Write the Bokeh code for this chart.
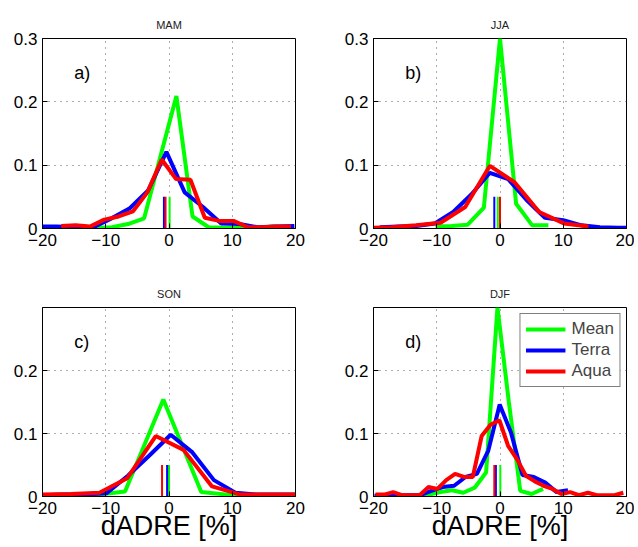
from bokeh.plotting import figure
from bokeh.layouts import column, row
from bokeh.models import Range1d, FixedTicker, CustomJSTickFormatter, Label, Legend
from bokeh.embed import file_html
from bokeh.resources import INLINE

# ---------------- data ----------------
seasons = ["MAM", "JJA", "SON", "DJF"]
panel_tags = ["a)", "b)", "c)", "d)"]
series_names = ["Mean", "Terra", "Aqua"]
series_colors = ["#00ff00", "#0000ff", "#ff0000"]

x_ticks = [-20, -10, 0, 10, 20]
y_ticks_top = [0, 0.1, 0.2, 0.3]
y_ticks_bottom = [0, 0.1, 0.2]

# MAM
mam_mean_x = [-19.23, -16.68, -14.13, -11.58, -9.03, -6.48, -3.93, -1.38, 1.17, 3.72, 6.27, 8.82, 11.37, 13.92, 16.47, 19.02]
mam_mean_y = [0.0, 0.0, 0.0, 0.001, 0.002, 0.007, 0.016, 0.113, 0.209, 0.019, 0.002, 0.001, 0.001, 0.001, 0.003, 0.001]
mam_terra_x = [-20.64, -17.75, -14.86, -11.97, -9.08, -6.19, -3.3, -0.41, 2.48, 5.37, 8.26, 11.15, 14.04, 16.93, 19.82]
mam_terra_y = [0.003, 0.003, 0.002, 0.002, 0.016, 0.032, 0.06, 0.121, 0.057, 0.034, 0.008, 0.007, 0.002, 0.003, 0.004]
mam_aqua_x = [-17.04, -14.77, -12.5, -10.23, -7.96, -5.69, -3.42, -1.15, 1.12, 3.39, 5.66, 7.93, 10.2, 12.47, 14.74, 17.01, 19.28]
mam_aqua_y = [0.004, 0.005, 0.003, 0.014, 0.019, 0.027, 0.057, 0.109, 0.078, 0.077, 0.017, 0.012, 0.012, 0.002, 0.002, 0.003, 0.003]
mam_means = [0.1, -0.8, -0.55]

# JJA
jja_mean_x = [-10.2, -7.65, -5.1, -2.55, 0.0, 2.55, 5.1, 7.65]
jja_mean_y = [0.003, 0.004, 0.006, 0.033, 0.3, 0.039, 0.005, 0.005]
jja_terra_x = [-19.0, -16.1, -13.2, -10.3, -7.4, -4.5, -1.6, 1.3, 4.2, 7.1, 10.0, 12.9, 15.8, 18.7, 21.6]
jja_terra_y = [0.002, 0.003, 0.004, 0.008, 0.026, 0.054, 0.088, 0.078, 0.045, 0.017, 0.013, 0.005, 0.002, 0.001, 0.001]
jja_aqua_x = [-21.1, -17.2, -13.3, -9.4, -5.5, -1.6, 2.3, 6.2, 10.1, 14.0]
jja_aqua_y = [0.001, 0.002, 0.005, 0.009, 0.034, 0.099, 0.073, 0.026, 0.008, 0.003]
jja_means = [-0.35, -0.9, 0.0]

# SON
son_mean_x = [-18.9, -12.9, -6.95, -0.9, 5.1, 11.1, 17.1]
son_mean_y = [0.0, 0.001, 0.008, 0.154, 0.007, 0.001, 0.0]
son_terra_x = [-20.1, -16.7, -13.3, -9.9, -6.5, -3.1, 0.27, 3.7, 7.1, 10.5, 13.9, 17.3, 20.7]
son_terra_y = [0.002, 0.003, 0.003, 0.005, 0.033, 0.065, 0.098, 0.07, 0.026, 0.006, 0.003, 0.003, 0.003]
son_aqua_x = [-20.0, -15.5, -11.0, -6.6, -2.1, 2.3, 6.8, 11.3, 15.8, 20.3]
son_aqua_y = [0.003, 0.004, 0.006, 0.029, 0.096, 0.074, 0.016, 0.003, 0.003, 0.003]
son_means = [0.0, -0.3, -1.1]

# DJF
djf_mean_x = [-14.8, -13.0, -11.2, -9.4, -7.6, -5.8, -4.0, -2.2, -0.4, 1.4, 3.2, 5.0, 6.8]
djf_mean_y = [0.001, 0.002, 0.003, 0.007, 0.01, 0.006, 0.014, 0.038, 0.3, 0.15, 0.009, 0.004, 0.012]
djf_terra_x = [-19.85, -18.05, -16.25, -14.45, -12.65, -10.85, -9.05, -7.25, -5.45, -3.65, -1.85, -0.05, 1.75, 3.55, 5.35, 7.15, 8.95, 10.75]
djf_terra_y = [0.001, 0.001, 0.002, 0.002, 0.002, 0.009, 0.015, 0.017, 0.031, 0.036, 0.073, 0.146, 0.101, 0.034, 0.031, 0.022, 0.007, 0.01]
djf_aqua_x = [-19.7, -18.3, -16.9, -15.5, -14.1, -12.7, -11.3, -9.9, -8.5, -7.1, -5.7, -4.3, -2.9, -1.5, -0.1,
              1.3, 2.7, 4.1, 5.5, 6.9, 8.3, 9.7, 11.1, 12.5, 13.9, 15.3, 16.7, 18.1, 19.5]
djf_aqua_y = [0.003, 0.003, 0.007, 0.002, 0.002, 0.002, 0.015, 0.012, 0.026, 0.036, 0.031, 0.031, 0.096, 0.114, 0.121,
              0.08, 0.059, 0.033, 0.024, 0.017, 0.012, 0.004, 0.007, 0.002, 0.006, 0.002, 0.002, 0.002, 0.006]
djf_means = [0.05, -0.65, -0.9]

marker_height = 0.05
x_label_text = "dADRE [%]"

FONT = "Liberation Sans"

fmt = CustomJSTickFormatter(code="""
const v = Math.round(tick * 1000) / 1000;
if (v == 0) { return "0"; }
const s = String(Math.abs(v));
return v < 0 ? "\\u2212" + s : s;
""")


def make_panel(idx, xs_list, ys_list, means, yticks, fh, bl, br, bt, bb, with_xlabel, with_legend):
    p = figure(frame_width=253, frame_height=fh, output_backend="svg", toolbar_location=None,
               x_range=Range1d(-20, 20), y_range=Range1d(0, 0.3),
               min_border_left=bl, min_border_right=br, min_border_top=bt, min_border_bottom=bb,
               title=seasons[idx])
    p.background_fill_color = "white"
    p.border_fill_color = "white"
    p.outline_line_color = "black"
    p.outline_line_width = 1

    p.title.align = "center"
    p.title.text_font = FONT
    p.title.text_font_size = "11px"
    p.title.text_font_style = "normal"
    p.title.text_color = "#222222"
    p.title.standoff = 16

    for ax in (p.xaxis[0], p.yaxis[0]):
        ax.major_tick_in = 5
        ax.major_tick_out = 0
        ax.minor_tick_in = 0
        ax.minor_tick_out = 0
        ax.axis_line_color = "black"
        ax.major_tick_line_color = "black"
        ax.major_label_text_font = FONT
        ax.major_label_text_font_size = "17px"
        ax.major_label_text_color = "black"
        ax.major_label_standoff = 5
        ax.formatter = fmt
    p.xaxis[0].ticker = FixedTicker(ticks=x_ticks)
    p.yaxis[0].ticker = FixedTicker(ticks=yticks)

    if with_xlabel:
        p.xaxis[0].axis_label = x_label_text
        p.xaxis[0].axis_label_text_font = FONT
        p.xaxis[0].axis_label_text_font_size = "27px"
        p.xaxis[0].axis_label_text_font_style = "normal"
        p.xaxis[0].axis_label_text_color = "black"
        p.xaxis[0].axis_label_standoff = -6

    p.xgrid.ticker = FixedTicker(ticks=[-10, 0, 10])
    p.ygrid.ticker = FixedTicker(ticks=[0.1, 0.2])
    for g in (p.xgrid[0], p.ygrid[0]):
        g.grid_line_color = "#333333"
        g.grid_line_dash = "1 5"
        g.grid_line_width = 1
        g.grid_line_alpha = 0.8

    renderers = []
    for xs, ys, col in zip(xs_list, ys_list, series_colors):
        r = p.line(xs, ys, line_color=col, line_width=4)
        renderers.append(r)
    for m, col in zip(means, series_colors):
        p.segment(x0=[m], y0=[0], x1=[m], y1=[marker_height], line_color=col, line_width=2)

    p.add_layout(Label(x=-15, y=0.245, text=panel_tags[idx], text_align="left", text_baseline="middle",
                       text_font=FONT, text_font_size="18px", text_color="black"))
    if with_legend:
        legend = Legend(items=[(n, [r]) for n, r in zip(series_names, renderers)],
                        location="top_right")
        legend.label_text_font = FONT
        legend.label_text_font_size = "17px"
        legend.glyph_width = 40
        legend.glyph_height = 20
        legend.label_standoff = 6
        legend.padding = 5
        legend.spacing = 1
        legend.margin = 6
        legend.border_line_color = "black"
        legend.border_line_width = 1
        legend.background_fill_alpha = 1.0
        p.add_layout(legend)
    return p


pa = make_panel(0, [mam_mean_x, mam_terra_x, mam_aqua_x], [mam_mean_y, mam_terra_y, mam_aqua_y], mam_means,
                y_ticks_top, 190, 42, 39, 38, 38, False, False)
pb = make_panel(1, [jja_mean_x, jja_terra_x, jja_aqua_x], [jja_mean_y, jja_terra_y, jja_aqua_y], jja_means,
                y_ticks_top, 190, 39, 8, 38, 38, False, False)
pc = make_panel(2, [son_mean_x, son_terra_x, son_aqua_x], [son_mean_y, son_terra_y, son_aqua_y], son_means,
                y_ticks_bottom, 189, 42, 39, 41, 40, True, False)
pd = make_panel(3, [djf_mean_x, djf_terra_x, djf_aqua_x], [djf_mean_y, djf_terra_y, djf_aqua_y], djf_means,
                y_ticks_bottom, 189, 39, 8, 41, 40, True, True)

layout = column(row(pa, pb), row(pc, pd))

with open("out.html", "w", encoding="utf-8") as f:
    f.write(file_html(layout, INLINE))
